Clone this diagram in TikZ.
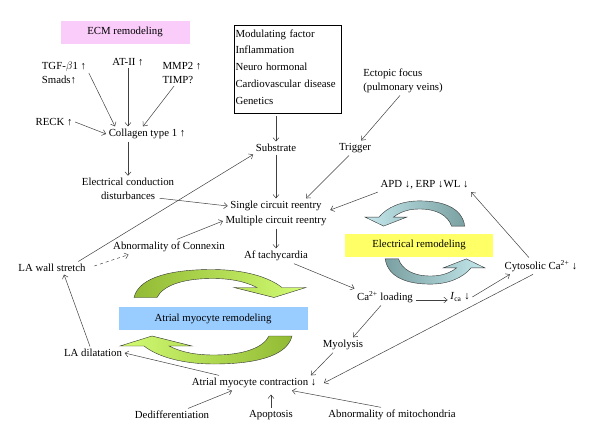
\documentclass[tikz,border=0pt]{standalone}
\usepackage{fontspec}
\setmainfont{Liberation Serif}
\usetikzlibrary{positioning, arrows.meta}

\definecolor{ecmpink}{RGB}{250,204,250}
\definecolor{elecyellow}{RGB}{255,255,102}
\definecolor{myoblue}{RGB}{153,204,255}
\definecolor{greendark}{RGB}{146,186,52}
\definecolor{greenlight}{RGB}{210,252,115}
\definecolor{tealdark}{RGB}{122,160,162}
\definecolor{teallight}{RGB}{196,232,236}

\tikzset{
    pics/turnarrow/.style={code={
        \path[pic actions] (-79,-21) .. controls (-74,-42) and (-40,-49) .. (-1,-49)
            .. controls (30,-49) and (55,-42) .. (69,-31) -- (93,-31) -- (61,-21)
            -- (21,-31) -- (44,-31) .. controls (30,-38) and (15,-40) .. (-1,-40)
            .. controls (-30,-40) and (-50,-33) .. (-56,-21) -- cycle;
    }}
}

\begin{document}
\begin{tikzpicture}[x=1pt, y=-1pt, on grid,
        font=\fontsize{10.8}{13.5}\selectfont,
        >={Straight Barb[length=3.5pt,width=6pt]},
        lbl/.style={inner sep=2.5pt, align=center},
        band/.style={minimum height=23pt, inner sep=0pt},
        lst/.style={draw, line width=0.8pt, align=left, text width=104pt, inner xsep=1.5pt,
            inner ysep=0pt, minimum height=88pt,
            font=\fontsize{10.8}{16.8}\selectfont},
        link/.style={->, line width=0.5pt, draw=black!75},
        twist/.style={draw=black!80, line width=0.4pt},
    ]
    \useasboundingbox (0,0) rectangle (600,442);

    % ECM remodeling
    \node[lbl] (collagen) at (147,134) {Collagen type 1 ↑};
    \node[lbl, align=left, above left=61pt and 83pt of collagen] (tgf) {TGF-$\beta$1 ↑\\Smads↑};
    \node[lbl, above left=72pt and 19pt of collagen] (at2) {AT-II ↑};
    \node[lbl, align=left, above right=61pt and 35pt of collagen] (mmp) {MMP2 ↑\\TIMP?};
    \node[lbl, above left=12pt and 93pt of collagen] (reck) {RECK ↑};
    \node[band, fill=ecmpink, minimum width=129pt, above left=30pt and 3pt of at2] (ecm) {ECM remodeling};
    \node[lbl, below left=55pt and 19pt of collagen] (conduction) {Electrical conduction\\disturbances};

    % Substrate and trigger
    \node[lbl, below right=14pt and 129pt of collagen] (substrate) {Substrate};
    \node[lst, above right=79pt and 11.5pt of substrate] (factors) {Modulating factor\\Inflammation\\Neuro hormonal\\Cardiovascular disease\\Genetics\rule[-4.2pt]{0pt}{4.2pt}};
    \node[lbl, right=79pt of substrate] (trigger) {Trigger};
    \node[lbl, align=left, above right=67pt and 48pt of trigger] (ectopic) {Ectopic focus\\(pulmonary veins)};
    \node[lbl, below=58pt of substrate] (single) {Single circuit reentry};
    \node[lbl, below=15pt of single] (multiple) {Multiple circuit reentry};
    \node[lbl, below=35pt of multiple] (af) {Af tachycardia};

    % Electrical remodeling
    \node[lbl, above right=21pt and 148.5pt of single] (apd) {APD ↓, ERP ↓WL ↓};
    \node[lbl, below right=41pt and 109pt of af] (ca) {Ca\textsuperscript{2+} loading};
    \node[lbl, right=75pt of ca] (ica) {\textit{I}\textsubscript{ca} ↓};
    \node[lbl, above right=31pt and 81pt of ica] (cytosolic) {Cytosolic Ca\textsuperscript{2+} ↓};
    \node[band, fill=elecyellow, minimum width=148pt, above right=52pt and 34pt of ca] (elec) {Electrical remodeling};

    % Atrial myocyte remodeling
    \node[lbl, below left=48pt and 42pt of ca] (myolysis) {Myolysis};
    \node[lbl, below left=38pt and 89pt of myolysis] (contraction) {Atrial myocyte contraction ↓};
    \node[band, fill=myoblue, minimum width=189pt, below left=62.5pt and 63pt of af] (myo) {Atrial myocyte remodeling};
    \node[lbl, above left=30pt and 161pt of contraction] (ladil) {LA dilatation};
    \node[lbl, above left=85pt and 41pt of ladil] (lawall) {LA wall stretch};
    \node[lbl, above right=21pt and 117pt of lawall] (connexin) {Abnormality of Connexin};
    \node[lbl, below left=32pt and 82pt of contraction] (dediff) {Dedifferentiation};
    \node[lbl, below right=32pt and 17pt of contraction] (apoptosis) {Apoptosis};
    \node[lbl, right=121pt of apoptosis] (mito) {Abnormality of mitochondria};

    % Turning arrows
    \pic[twist, left color=greendark, right color=greenlight] at (myo) {turnarrow};
    \pic[twist, xscale=-1, yscale=-1, left color=greenlight, right color=greendark] at ([yshift=3.5pt]myo) {turnarrow};
    \pic[twist, xscale=-0.58, yscale=0.9, left color=teallight, right color=tealdark] at (elec) {turnarrow};
    \pic[twist, xscale=0.58, yscale=-0.9, left color=tealdark, right color=teallight] at ([xshift=12pt,yshift=5pt]elec) {turnarrow};

    % Edges ECM
    \draw[link] (tgf.east) -- ([xshift=-32pt]collagen.north);
    \draw[link] (at2.south) -- (at2.south |- collagen.north);
    \draw[link] ([xshift=-8pt]mmp.south) -- ([xshift=-4pt]collagen.north);
    \draw[link] (reck.east) -- (collagen.west);
    \draw[link] (conduction.north |- collagen.south) -- (conduction.north);
    \draw[link] ([xshift=-17pt,yshift=4pt]conduction.south east) -- (single.west);
    % Edges substrate / trigger
    \draw[link, shorten <=3pt] (substrate.north |- factors.south) -- (substrate.north);
    \draw[link] (substrate.south) -- (substrate.south |- single.north);
    \draw[link] ([xshift=-3pt]ectopic.south) -- ([xshift=6pt]trigger.north);
    \draw[link] ([xshift=-6pt]trigger.south) -- ([xshift=30pt]single.north);
    \draw[link] (apd.south west) -- ([xshift=6pt,yshift=-4pt]single.east);
    \draw[link] ([xshift=-10pt]lawall.north east) -- (substrate.south west);
    \draw[link, dashed] ([xshift=6pt,yshift=2pt]lawall.east) -- ([xshift=18pt]connexin.south west);
    \draw[link] ([xshift=8pt]connexin.north) -- (multiple.west);
    \draw[link] (af.north |- multiple.south) -- (af.north);
    % Edges electrical
    \draw[link] ([xshift=18pt]af.south) -- (ca.north west);
    \draw[link] ([yshift=-3pt]ca.east) -- ([yshift=-3pt]ica.west);
    \draw[link] (ica.east) -- ([xshift=8pt]cytosolic.south west);
    \draw[link] ([xshift=-12pt]cytosolic.north) -- (apd.south east);
    \draw[link] ([xshift=-8pt]cytosolic.south) -- ([xshift=5pt]contraction.east);
    % Edges myocyte
    \draw[link] ([xshift=-4pt]ca.south) -- ([xshift=10pt]myolysis.north);
    \draw[link] ([xshift=-10pt]myolysis.south) -- ([xshift=-8pt]contraction.north east);
    \draw[link] ([xshift=-35pt]contraction.north) -- (ladil.east);
    \draw[link] ([xshift=-3pt]ladil.north) -- ([xshift=12pt]lawall.south);
    \draw[link] ([xshift=16pt]dediff.north) -- ([xshift=-22pt]contraction.south);
    \draw[link, shorten >=4pt] (apoptosis.north) -- (apoptosis.north |- contraction.south);
    \draw[link] ([xshift=-11pt]mito.north) -- ([xshift=38pt]contraction.south);
\end{tikzpicture}
\end{document}
